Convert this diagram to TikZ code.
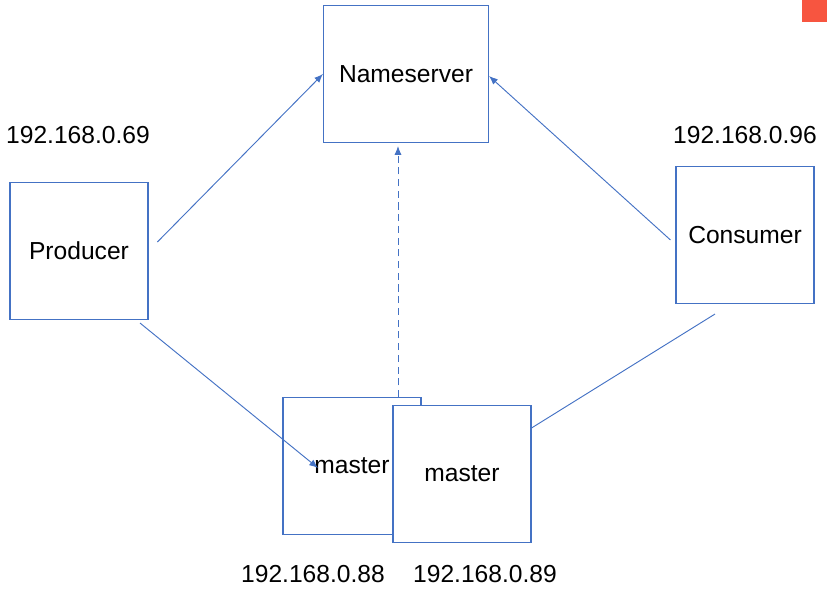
\documentclass[tikz,border=0pt]{standalone}
\usepackage{fontspec}
\setmainfont{Liberation Sans}
\usepackage{xcolor}
\usetikzlibrary{arrows.meta, positioning, calc}

\definecolor{boxblue}{RGB}{68,114,196}
\definecolor{cornerred}{RGB}{247,85,64}

\begin{document}
\begin{tikzpicture}[
  x=0.03cm, y=-0.03cm,
  font=\fontsize{21}{25}\selectfont,
  >={Latex[length=7.5pt,width=6pt]},
  nodebox/.style={rectangle, draw=boxblue, line width=0.9pt, fill=white,
        minimum width=4.14cm, minimum height=4.11cm, inner sep=0pt},
  ipaddr/.style={inner sep=0pt, anchor=center},
  flow/.style={->, boxblue, line width=0.8pt},
  flowD/.style={->, boxblue, line width=0.8pt, dash pattern=on 6pt off 4pt},
  plain/.style={boxblue, line width=0.8pt},
]
\useasboundingbox (0,0) rectangle (827,593);

% --- corner mark ---
\fill[cornerred] (802,0) rectangle (827,22);

% --- boxes ---
\node[nodebox, minimum width=4.95cm] (ns) at (406,74) {Nameserver};
\node[nodebox] (prod) at (79,251)  {Producer};
\node[nodebox] (cons) at (745,235) {Consumer};
\node[nodebox] (mA)   at (352,466) {master};

% --- addresses ---
\node[ipaddr] (ipP)  at (78,135)  {192.168.0.69};
\node[ipaddr] (ipC)  at (745,135) {192.168.0.96};
\node[ipaddr] (ipMA) at (313,574) {192.168.0.88};
\node[ipaddr] (ipMB) at (485,574) {192.168.0.89};

% --- arrows to the nameserver ---
\draw[flow, shorten <=10.8pt] (prod.east) -- (ns.west);
\draw[flow] ([shift={(-5,5)}]cons.west) -- ([shift={(0,2)}]ns.east);
\draw[flowD] ([xshift=-8*0.03cm]ns.south |- mA.north)
   -- ([shift={(-8,3)}]ns.south);

% --- producer to master ---
\draw[flow] ([shift={(61,3)}]prod.south) -- ([shift={(-34,2)}]mA.center);

% --- second master on top ---
\node[nodebox] (mB) at (462,474) {master};

% --- consumer to master ---
\draw[plain] ([shift={(-30,10)}]cons.south) -- ([shift={(0,-46)}]mB.east);

\end{tikzpicture}
\end{document}
